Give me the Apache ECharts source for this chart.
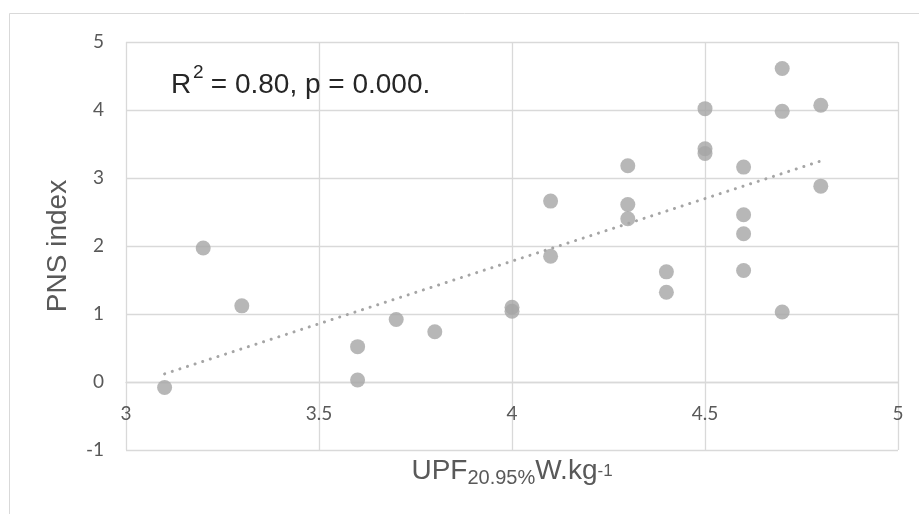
<!DOCTYPE html>
<html>
<head>
<meta charset="utf-8">
<script src="https://cdn.jsdelivr.net/npm/echarts@6/dist/echarts.min.js"></script>
<style>
  html, body { margin: 0; padding: 0; background: #ffffff; }
  #chart { width: 919px; height: 514px; }
</style>
</head>
<body>
<div id="chart"></div>
<script>
// UPF20.95% (W.kg-1) values
const upfValues = [3.1, 3.2, 3.3, 3.6, 3.6, 3.7, 3.8, 4.0, 4.0, 4.1, 4.1, 4.3, 4.3, 4.3, 4.4, 4.4, 4.5, 4.5, 4.5, 4.6, 4.6, 4.6, 4.6, 4.7, 4.7, 4.7, 4.8, 4.8];
// PNS index values
const pnsValues = [-0.08, 1.97, 1.12, 0.52, 0.03, 0.92, 0.74, 1.10, 1.04, 2.66, 1.85, 3.18, 2.61, 2.40, 1.62, 1.32, 4.02, 3.43, 3.36, 3.16, 2.46, 2.18, 1.64, 4.61, 3.98, 1.03, 4.07, 2.88];
// Linear trendline endpoints
const trendX = [3.1, 4.8];
const trendY = [0.12, 3.25];
// Axis ticks
const xTicks = [3, 3.5, 4, 4.5, 5];
const yTicks = [-1, 0, 1, 2, 3, 4, 5];

const points = upfValues.map((x, i) => [x, pnsValues[i]]);
const trend = trendX.map((x, i) => [x, trendY[i]]);

const chart = echarts.init(document.getElementById('chart'), null, { renderer: 'canvas' });
const gridColor = '#d9d9d9';
const labelColor = '#595959';
const titleFont = '"Liberation Sans", Arial, sans-serif';
const gridTop = 42, gridHeight = 408;
// distance of the y = 0 line above the plot bottom (x axis crosses at 0)
const zeroOffset = gridHeight * (0 - yTicks[0]) / (yTicks[yTicks.length - 1] - yTicks[0]);

chart.setOption({
  animation: false,
  backgroundColor: '#ffffff',
  graphic: [
    {
      type: 'rect',
      shape: { x: 9.5, y: 13.5, width: 1000, height: 1000 },
      style: { fill: 'none', stroke: gridColor, lineWidth: 1 },
      silent: true,
      z: -10
    },
    {
      type: 'text', left: 171, top: 71,
      style: { text: 'R', fontFamily: titleFont, fontSize: 28, fill: '#262626' }, z: 10
    },
    {
      type: 'text', left: 193, top: 63,
      style: { text: '2', fontFamily: titleFont, fontSize: 19, fill: '#262626' }, z: 10
    },
    {
      type: 'text', left: 203, top: 71,
      style: { text: ' = 0.80, p = 0.000.', fontFamily: titleFont, fontSize: 28, fill: '#262626' }, z: 10
    }
  ],
  grid: { left: 126, top: gridTop, width: 772, height: gridHeight, containLabel: false, outerBoundsMode: 'none' },
  xAxis: {
    type: 'value',
    min: xTicks[0],
    max: xTicks[xTicks.length - 1],
    interval: 0.5,
    position: 'bottom',
    offset: -zeroOffset,
    axisLine: { show: true, onZero: false, lineStyle: { color: gridColor, width: 1.3 } },
    axisTick: { show: false },
    axisLabel: {
      color: labelColor, fontFamily: 'Lato, "Open Sans", sans-serif', fontSize: 19, margin: 22,
      formatter: v => String(v)
    },
    splitLine: { show: true, lineStyle: { color: gridColor, width: 1.3 } },
    name: '{m|UPF}{sub|20.95%}{m|W.kg}{sup|-1}',
    nameLocation: 'middle',
    nameGap: 72,
    nameTextStyle: {
      rich: {
        m: { fontFamily: titleFont, fontSize: 28, color: labelColor, lineHeight: 34 },
        sub: { fontFamily: titleFont, fontSize: 20, color: labelColor, lineHeight: 17, verticalAlign: 'bottom' },
        sup: { fontFamily: titleFont, fontSize: 17, color: labelColor, lineHeight: 34, verticalAlign: 'middle' }
      }
    }
  },
  yAxis: {
    type: 'value',
    min: yTicks[0],
    max: yTicks[yTicks.length - 1],
    interval: 1,
    axisLine: { show: false, onZero: false },
    axisTick: { show: false },
    axisLabel: { color: labelColor, fontFamily: 'Lato, "Open Sans", sans-serif', fontSize: 19, margin: 22 },
    splitLine: { show: true, lineStyle: { color: gridColor, width: 1.3 } },
    name: 'PNS index',
    nameLocation: 'middle',
    nameGap: 54,
    nameTextStyle: { fontFamily: titleFont, fontSize: 28, color: labelColor }
  },
  series: [
    {
      type: 'scatter',
      data: points,
      symbol: 'circle',
      symbolSize: 15,
      itemStyle: { color: '#a5a5a5' },
      z: 3
    },
    {
      type: 'line',
      data: trend,
      symbol: 'none',
      lineStyle: { color: '#a5a5a5', width: 3, type: [0.1, 7.9], cap: 'round' },
      z: 2
    }
  ]
});
</script>
</body>
</html>
